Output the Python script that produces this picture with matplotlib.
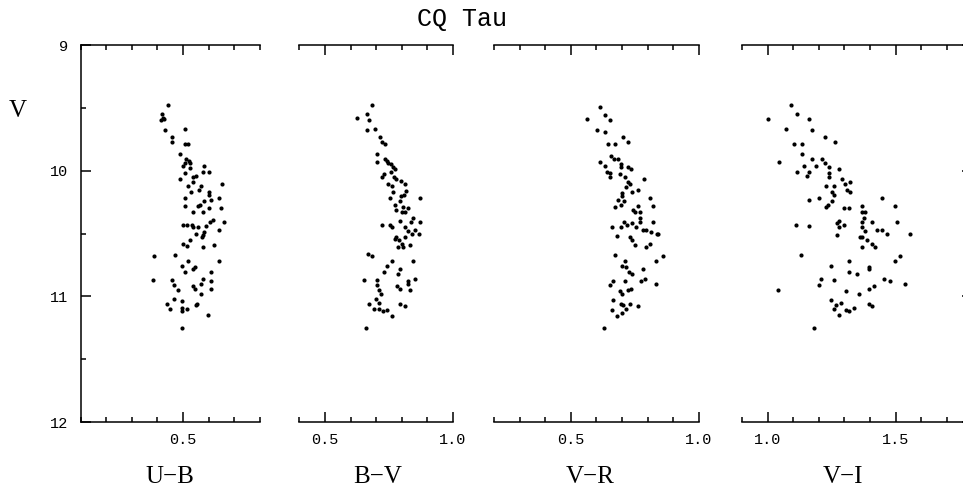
import matplotlib
matplotlib.use("Agg")
import matplotlib.pyplot as plt
from matplotlib.ticker import MultipleLocator, FormatStrFormatter, NullLocator

# ---------------- data (colour index, V magnitude) ----------------
ub_x = [0.440, 0.419, 0.423, 0.416, 0.428, 0.431, 0.510, 0.458, 0.459, 0.508, 0.518, 0.488,
        0.512, 0.522, 0.507, 0.501, 0.529, 0.529, 0.581, 0.510, 0.580, 0.601, 0.541, 0.552,
        0.488, 0.538, 0.521, 0.571, 0.652, 0.561, 0.601, 0.601, 0.530, 0.509, 0.641, 0.611,
        0.581, 0.567, 0.559, 0.509, 0.602, 0.650, 0.538, 0.580,
        0.499, 0.517, 0.535, 0.538, 0.559, 0.590, 0.606, 0.619, 0.662, 0.550, 0.582, 0.573,
        0.577, 0.641, 0.529, 0.499, 0.517, 0.580, 0.622, 0.386, 0.469, 0.640, 0.518, 0.497,
        0.539, 0.548, 0.507, 0.608, 0.385, 0.457, 0.580, 0.610, 0.569, 0.467, 0.538, 0.548,
        0.479, 0.608, 0.569, 0.466, 0.497, 0.436, 0.551, 0.556, 0.448, 0.497, 0.517, 0.497,
        0.599, 0.496]
ub_v = [9.48, 9.55, 9.58, 9.60, 9.59, 9.68, 9.67, 9.73, 9.77, 9.79, 9.79, 9.87,
        9.91, 9.92, 9.94, 9.96, 9.94, 9.98, 9.96, 10.02, 10.01, 10.01, 10.05, 10.04,
        10.07, 10.09, 10.12, 10.12, 10.11, 10.15, 10.17, 10.19, 10.17, 10.22, 10.22, 10.23,
        10.24, 10.27, 10.28, 10.28, 10.30, 10.30, 10.33, 10.33,
        10.43, 10.43, 10.43, 10.45, 10.45, 10.44, 10.41, 10.39, 10.41, 10.50, 10.49, 10.53,
        10.51, 10.47, 10.55, 10.58, 10.60, 10.61, 10.59, 10.68, 10.67, 10.72, 10.72, 10.76,
        10.78, 10.77, 10.81, 10.81, 10.87, 10.87, 10.86, 10.88, 10.90, 10.91, 10.92, 10.94,
        10.95, 10.94, 10.98, 11.02, 11.04, 11.06, 11.07, 11.06, 11.10, 11.09, 11.10, 11.12,
        11.15, 11.25]

bv_x = [0.684, 0.624, 0.664, 0.674, 0.663, 0.694, 0.714, 0.724, 0.733, 0.704, 0.703, 0.736,
        0.742, 0.745, 0.757, 0.766, 0.773, 0.729, 0.723, 0.759, 0.771, 0.779, 0.797, 0.814,
        0.745, 0.762, 0.766, 0.818, 0.810, 0.799, 0.872, 0.754, 0.792, 0.772, 0.805, 0.824,
        0.779, 0.803, 0.814,
        0.846, 0.793, 0.835, 0.870, 0.724, 0.753, 0.762, 0.814, 0.853, 0.823, 0.842, 0.866,
        0.779, 0.773, 0.790, 0.813, 0.801, 0.833, 0.786, 0.805, 0.669, 0.684, 0.763, 0.845,
        0.742, 0.794, 0.732, 0.784, 0.651, 0.702, 0.702, 0.852, 0.823, 0.823, 0.783, 0.792,
        0.833, 0.712, 0.721, 0.701, 0.711, 0.672, 0.792, 0.813, 0.691, 0.712, 0.727, 0.743,
        0.763, 0.660]
bv_v = [9.48, 9.58, 9.55, 9.60, 9.68, 9.67, 9.73, 9.77, 9.79, 9.87, 9.93, 9.91,
        9.92, 9.94, 9.95, 9.97, 9.99, 10.03, 10.05, 10.01, 10.05, 10.07, 10.08, 10.11,
        10.11, 10.12, 10.17, 10.16, 10.19, 10.20, 10.22, 10.22, 10.24, 10.27, 10.29, 10.30,
        10.31, 10.33, 10.33,
        10.38, 10.40, 10.41, 10.41, 10.43, 10.43, 10.45, 10.45, 10.47, 10.48, 10.50, 10.50,
        10.53, 10.54, 10.55, 10.53, 10.58, 10.59, 10.61, 10.61, 10.66, 10.68, 10.72, 10.72,
        10.76, 10.78, 10.81, 10.82, 10.87, 10.87, 10.91, 10.86, 10.88, 10.90, 10.92, 10.94,
        10.95, 10.95, 10.98, 11.02, 11.05, 11.06, 11.06, 11.08, 11.10, 11.10, 11.12, 11.11,
        11.16, 11.25]

vr_x = [0.615, 0.565, 0.635, 0.655, 0.604, 0.634, 0.703, 0.725, 0.645, 0.674, 0.656, 0.667,
        0.685, 0.615, 0.633, 0.695, 0.695, 0.724, 0.734, 0.643, 0.654, 0.654, 0.694, 0.711,
        0.784, 0.724, 0.732, 0.714, 0.762, 0.741, 0.701, 0.701, 0.686, 0.708, 0.698, 0.673,
        0.811, 0.822, 0.762, 0.742, 0.751, 0.772,
        0.771, 0.771, 0.661, 0.698, 0.708, 0.721, 0.741, 0.753, 0.783, 0.793, 0.813, 0.822,
        0.835, 0.841, 0.682, 0.732, 0.740, 0.750, 0.793, 0.811, 0.673, 0.711, 0.701, 0.717,
        0.729, 0.740, 0.781, 0.833, 0.861, 0.664, 0.652, 0.711, 0.773, 0.790, 0.832, 0.724,
        0.736, 0.693, 0.701, 0.663, 0.698, 0.704, 0.730, 0.763, 0.717, 0.661, 0.699, 0.681,
        0.630]
vr_v = [9.49, 9.59, 9.56, 9.60, 9.68, 9.69, 9.73, 9.77, 9.79, 9.79, 9.88, 9.91,
        9.91, 9.93, 9.96, 9.95, 9.97, 9.97, 9.99, 10.01, 10.02, 10.05, 10.03, 10.05,
        10.07, 10.09, 10.11, 10.13, 10.15, 10.17, 10.18, 10.20, 10.23, 10.24, 10.27, 10.29,
        10.22, 10.28, 10.28, 10.31, 10.33, 10.33,
        10.38, 10.41, 10.45, 10.45, 10.41, 10.43, 10.42, 10.45, 10.47, 10.47, 10.49, 10.41,
        10.50, 10.50, 10.52, 10.53, 10.55, 10.59, 10.61, 10.58, 10.67, 10.72, 10.76, 10.77,
        10.81, 10.82, 10.78, 10.72, 10.68, 10.88, 10.91, 10.88, 10.88, 10.86, 10.90, 10.95,
        10.94, 10.96, 10.98, 11.03, 11.06, 11.07, 11.06, 11.08, 11.10, 11.11, 11.13, 11.16,
        11.25]

vi_x = [1.092, 1.115, 1.003, 1.163, 1.073, 1.172, 1.223, 1.263, 1.102, 1.134, 1.133, 1.172,
        1.212, 1.043, 1.223, 1.143, 1.191, 1.241, 1.280, 1.113, 1.163, 1.154, 1.240, 1.240,
        1.290, 1.320, 1.301, 1.230, 1.260, 1.311, 1.320, 1.251, 1.258, 1.161, 1.201, 1.250,
        1.237, 1.229, 1.447, 1.297, 1.318, 1.368, 1.497, 1.368, 1.379, 1.378, 1.111, 1.160,
        1.279, 1.271, 1.298, 1.277, 1.367, 1.408, 1.507, 1.368, 1.379, 1.427, 1.448, 1.467,
        1.557, 1.270, 1.359, 1.367, 1.388, 1.408, 1.418, 1.367, 1.130, 1.318, 1.497, 1.518,
        1.247, 1.398, 1.398, 1.318, 1.348, 1.208, 1.258, 1.456, 1.477, 1.199, 1.536, 1.040,
        1.307, 1.397, 1.417, 1.358, 1.247, 1.286, 1.267, 1.397, 1.408, 1.258, 1.307, 1.318,
        1.337, 1.277, 1.180]
vi_v = [9.48, 9.55, 9.59, 9.59, 9.67, 9.68, 9.73, 9.77, 9.79, 9.79, 9.87, 9.91,
        9.91, 9.93, 9.94, 9.96, 9.96, 9.97, 9.99, 10.01, 10.01, 10.04, 10.02, 10.05,
        10.07, 10.09, 10.11, 10.12, 10.12, 10.15, 10.17, 10.17, 10.19, 10.23, 10.22, 10.24,
        10.27, 10.29, 10.22, 10.30, 10.30, 10.28, 10.28, 10.33, 10.33, 10.38, 10.43, 10.44,
        10.40, 10.42, 10.43, 10.45, 10.41, 10.41, 10.41, 10.45, 10.48, 10.47, 10.47, 10.50,
        10.50, 10.51, 10.53, 10.53, 10.55, 10.58, 10.61, 10.61, 10.67, 10.72, 10.72, 10.68,
        10.76, 10.77, 10.78, 10.81, 10.82, 10.86, 10.87, 10.86, 10.88, 10.91, 10.90, 10.95,
        10.96, 10.94, 10.92, 10.98, 11.03, 11.05, 11.07, 11.06, 11.08, 11.10, 11.11, 11.12,
        11.09, 11.15, 11.25]

panels = [
    (ub_x, ub_v, (0.1, 0.8), "U\u2212B"),
    (bv_x, bv_v, (0.4, 1.0), "B\u2212V"),
    (vr_x, vr_v, (0.2, 1.0), "V\u2212R"),
    (vi_x, vi_v, (0.9, 1.8), "V\u2212I"),
]

# ---------------- layout (pixels) ----------------
W, H = 963, 494
fig = plt.figure(figsize=(W / 100, H / 100), dpi=100)
y_top, y_bot = 45, 422
px_per_unit = 256.0
lefts = [80.5, 299.3, 494.0, 742.0]
label_cx = [170, 378, 590, 843]

mono = "Liberation Mono"
serif = "Liberation Serif"
lw = 1.1

for i, ((xs, vs, xlim, lab), left) in enumerate(zip(panels, lefts)):
    width = (xlim[1] - xlim[0]) * px_per_unit
    ax = fig.add_axes([left / W, (H - y_bot) / H, width / W, (y_bot - y_top) / H])
    ax.plot(xs, vs, "o", ms=3.0, color="black", mec="black", mew=0)
    ax.set_xlim(*xlim)
    ax.set_ylim(12, 9)
    ax.set_facecolor("none")
    for s in ax.spines.values():
        s.set_linewidth(lw)
    ax.spines["right"].set_visible(i == 3)
    ax.spines["left"].set_visible(i == 0)

    ax.xaxis.set_major_locator(MultipleLocator(0.5))
    ax.xaxis.set_minor_locator(MultipleLocator(0.1))
    ax.xaxis.set_major_formatter(FormatStrFormatter("%.1f"))
    ax.tick_params(axis="x", which="both", direction="in", top=True, bottom=True,
                   width=lw, labelsize=11, pad=8)
    ax.tick_params(axis="x", which="major", length=7)
    ax.tick_params(axis="x", which="minor", length=3.5)

    ax.yaxis.set_major_locator(MultipleLocator(1))
    if i == 0:
        ax.yaxis.set_minor_locator(MultipleLocator(0.5))
        ax.tick_params(axis="y", which="both", direction="in", left=True, right=False,
                       width=lw, labelsize=11, pad=9)
        ax.tick_params(axis="y", which="major", length=7)
        ax.tick_params(axis="y", which="minor", length=3.5)
    elif i == 3:
        ax.yaxis.set_minor_locator(NullLocator())
        ax.tick_params(axis="y", which="both", direction="in", left=False, right=True,
                       labelleft=False, width=lw, length=7)
    else:
        ax.tick_params(axis="y", which="both", left=False, right=False, labelleft=False)
    for t in ax.get_xticklabels() + ax.get_yticklabels():
        t.set_fontfamily(mono)

    fig.text(label_cx[i] / W, 1 - 477 / H, lab, ha="center", va="center",
             fontsize=18, family=serif)

fig.text(462 / W, 1 - 19 / H, "CQ Tau", ha="center", va="center", fontsize=18, family=mono)
fig.text(18 / W, 1 - 111 / H, "V", ha="center", va="center", fontsize=18, family=serif)

fig.savefig("out.png", dpi=100)
